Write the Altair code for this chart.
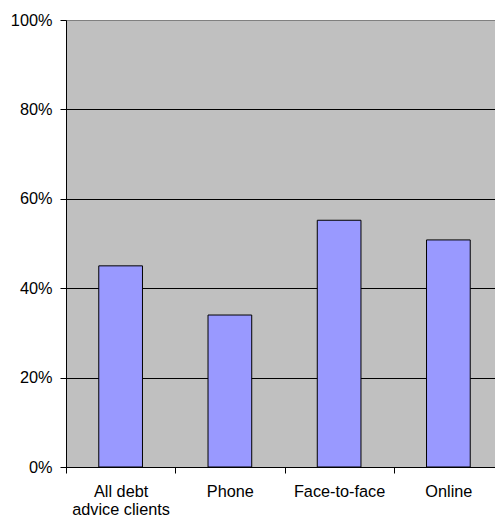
import altair as alt
import pandas as pd

categories = ["All debt\nadvice clients", "Phone", "Face-to-face", "Online"]
values = [0.45, 0.34, 0.552, 0.508]

df = pd.DataFrame({"channel": categories, "share": values})

font = "Liberation Sans"

chart = alt.Chart(df).mark_bar(
    width=alt.RelativeBandSize(0.4), fill="#9999FF", stroke="black", strokeWidth=1
).encode(
    x=alt.X("channel:N", sort=categories, title=None,
            scale=alt.Scale(paddingInner=0, paddingOuter=0),
            axis=alt.Axis(labelAngle=0, labelExpr="split(datum.label, '\\n')",
                          tickBand="extent", tickSize=6, tickColor="black",
                          domainColor="black", labelPadding=10,
                          labelFontSize=16.3, labelFont=font, labelColor="black",
                          labelLineHeight=18, labelBaseline="top")),
    y=alt.Y("share:Q", title=None,
            scale=alt.Scale(domain=[0, 1], nice=False),
            axis=alt.Axis(format=".0%", values=[0, 0.2, 0.4, 0.6, 0.8, 1.0],
                          tickSize=6, tickColor="black", domainColor="black",
                          gridColor={"condition": {"test": "datum.value >= 1", "value": "#808080"}, "value": "black"},
                          gridOpacity=1,
                          labelPadding=8, labelFontSize=16.3, labelFont=font,
                          labelColor="black")),
).properties(
    width=437, height=447,
    autosize=alt.AutoSizeParams(type="none"),
    padding={"left": 58, "top": 12, "right": -8, "bottom": 51},
).configure_view(
    fill="#C0C0C0", stroke="#808080", strokeWidth=1
).configure_axis(grid=True)

chart = chart.configure_axisX(grid=False)

chart.save("out.html", embed_options={"renderer": "svg", "actions": False})
